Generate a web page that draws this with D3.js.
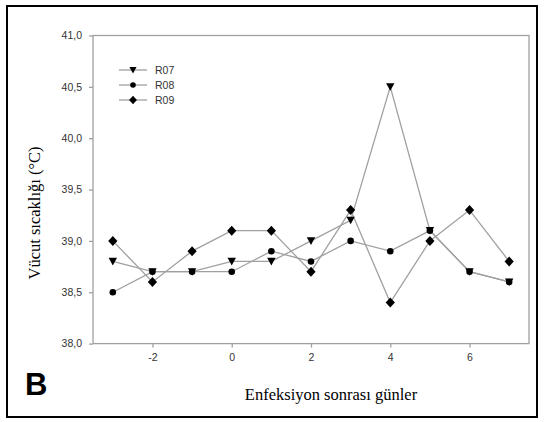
<!DOCTYPE html>
<html><head><meta charset="utf-8">
<script src="https://cdn.jsdelivr.net/npm/d3@7"></script>
<style>body{margin:0;background:#fff}</style>
</head><body>
<svg id="c" width="545" height="422"></svg>
<script>
const days = [-3,-2,-1,0,1,2,3,4,5,6,7];
const r07 = [38.8,38.7,38.7,38.8,38.8,39.0,39.2,40.5,39.1,38.7,38.6];
const r08 = [38.5,38.7,38.7,38.7,38.9,38.8,39.0,38.9,39.1,38.7,38.6];
const r09 = [39.0,38.6,38.9,39.1,39.1,38.7,39.3,38.4,39.0,39.3,38.8];
const seriesNames = ["R07","R08","R09"];
const xTicks = [-2,0,2,4,6];
const yTicks = [38.0,38.5,39.0,39.5,40.0,40.5,41.0];

const svg = d3.select("#c");
svg.append("rect").attr("x",7).attr("y",6).attr("width",530).attr("height",411)
  .attr("fill","none").attr("stroke","#000").attr("stroke-width",2);

const L=93,R=529,T=35.5,B=343.6;
const x = d3.scaleLinear().domain([-3.5,7.5]).range([L,R]);
const y = d3.scaleLinear().domain([38,41]).range([B,T]);
const grey="#a0a0a0";

svg.append("rect").attr("x",L).attr("y",T).attr("width",R-L).attr("height",B-T)
  .attr("fill","none").attr("stroke",grey).attr("stroke-width",1.3);

const xa = svg.append("g").attr("transform",`translate(0,${B})`)
  .call(d3.axisBottom(x).tickValues(xTicks).tickSize(4).tickPadding(6).tickFormat(d=>d));
const ya = svg.append("g").attr("transform",`translate(${L},0)`)
  .call(d3.axisLeft(y).tickValues(yTicks).tickSize(4).tickPadding(7).tickFormat(d=>d3.format(".1f")(d).replace(".",",")));
[xa,ya].forEach(a=>{
  a.select(".domain").remove();
  a.selectAll("line").attr("stroke",grey).attr("stroke-width",1.3);
  a.selectAll("text").attr("fill","#333").style("font-family","Arial, 'Liberation Sans', sans-serif").style("font-size","10.5px");
});

const sym = {
  tri: d3.symbol().type({draw(ctx,s){const h=4.2;ctx.moveTo(-h,-h*0.85);ctx.lineTo(h,-h*0.85);ctx.lineTo(0,h*0.95);ctx.closePath();}})(),
  circ: d3.symbol().type(d3.symbolCircle).size(34)(),
  dia: d3.symbol().type({draw(ctx){const w=4.6,h=5;ctx.moveTo(0,-h);ctx.lineTo(w,0);ctx.lineTo(0,h);ctx.lineTo(-w,0);ctx.closePath();}})()
};
const series = [
  {name:seriesNames[0], vals:r07, s:sym.tri},
  {name:seriesNames[1], vals:r08, s:sym.circ},
  {name:seriesNames[2], vals:r09, s:sym.dia}
];
const line = d3.line().x((d,i)=>x(days[i])).y(d=>y(d));
series.forEach(se=>{
  svg.append("path").attr("d",line(se.vals)).attr("fill","none").attr("stroke",grey).attr("stroke-width",1.3);
});
series.forEach(se=>{
  svg.selectAll(null).data(se.vals).enter().append("path")
    .attr("d",se.s).attr("fill","#000")
    .attr("transform",(d,i)=>`translate(${x(days[i])},${y(d)})`);
});

// legend
const ly=[70,85,100];
series.forEach((se,i)=>{
  svg.append("line").attr("x1",119).attr("x2",147).attr("y1",ly[i]).attr("y2",ly[i]).attr("stroke",grey).attr("stroke-width",1.3);
  svg.append("path").attr("d",se.s).attr("fill","#000").attr("transform",`translate(133,${ly[i]}) scale(0.85)`);
  svg.append("text").attr("x",155).attr("y",ly[i]+4).text(se.name)
    .attr("fill","#333").style("font-family","Arial, 'Liberation Sans', sans-serif").style("font-size","10.5px");
});

svg.append("text").attr("transform",`translate(40,213) rotate(-90)`).attr("text-anchor","middle")
  .style("font-family","'Liberation Serif','Times New Roman',serif").style("font-size","16.5px").text("Vücut sıcaklığı (°C)");
svg.append("text").attr("x",331).attr("y",400).attr("text-anchor","middle")
  .style("font-family","'Liberation Serif','Times New Roman',serif").style("font-size","16.5px").text("Enfeksiyon sonrası günler");
svg.append("text").attr("x",25).attr("y",395)
  .style("font-family","Arial, 'Liberation Sans', sans-serif").style("font-size","31px").style("font-weight","bold").text("B");
</script>
</body></html>
